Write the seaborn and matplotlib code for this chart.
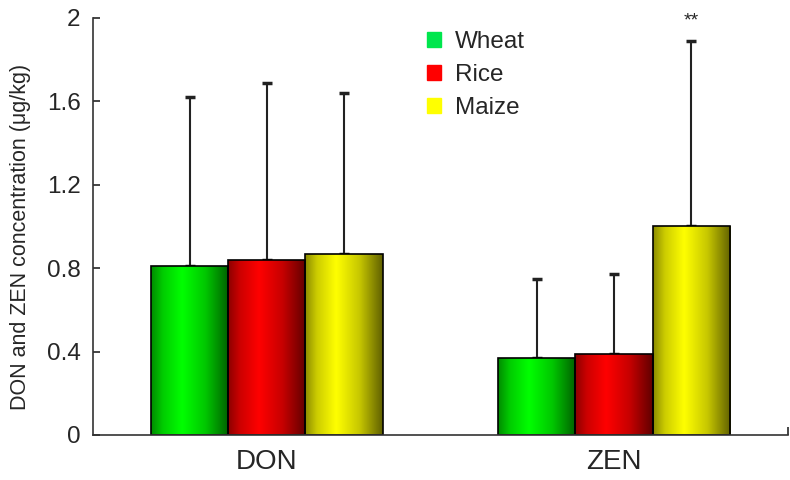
import matplotlib
matplotlib.use("Agg")
import matplotlib.pyplot as plt
import matplotlib.patches as mpatches
from matplotlib.colors import LinearSegmentedColormap
import seaborn as sns
import numpy as np
import pandas as pd

toxins = ["DON", "ZEN"]
grains = ["Wheat", "Rice", "Maize"]
means = {"Wheat": [0.81, 0.37], "Rice": [0.84, 0.39], "Maize": [0.87, 1.00]}
upper = {"Wheat": [1.62, 0.75], "Rice": [1.69, 0.77], "Maize": [1.64, 1.89]}
base_cols = {"Wheat": (0.0, 1.0, 0.0), "Rice": (1.0, 0.0, 0.0), "Maize": (1.0, 1.0, 0.0)}
legend_cols = {"Wheat": "#00e64d", "Rice": "#ff0000", "Maize": "#ffff00"}

rows = []
for g in grains:
    for i, t in enumerate(toxins):
        rows.append({"toxin": t, "grain": g, "mean": means[g][i]})
df = pd.DataFrame(rows)

sns.set_style("white")
plt.rcParams["font.family"] = ["Liberation Sans", "DejaVu Sans"]

fig = plt.figure(figsize=(7.9, 4.8), dpi=100)
ax = fig.add_axes([0.118, 0.094, 0.879, 0.8685])

sns.barplot(data=df, x="toxin", y="mean", hue="grain", order=toxins,
            hue_order=grains, palette=legend_cols, width=0.667,
            edgecolor="black", linewidth=1.2, legend=False, ax=ax)

# cylinder-like shading across each bar
prof_x = [0.0, 0.15, 0.4, 0.7, 1.0]
prof_v = [0.55, 0.8, 1.0, 0.78, 0.38]
for g, cont in zip(grains, ax.containers):
    r, gg, b = base_cols[g]
    cmap = LinearSegmentedColormap.from_list(
        g, [(px, (r * v, gg * v, b * v)) for px, v in zip(prof_x, prof_v)])
    grad = np.linspace(0, 1, 200).reshape(1, -1)
    for i, p in enumerate(cont.patches):
        x0, w, h = p.get_x(), p.get_width(), p.get_height()
        im = ax.imshow(grad, cmap=cmap, aspect="auto", extent=[x0, x0 + w, 0, h],
                       origin="lower", zorder=1.5, interpolation="bicubic")
        im.set_clip_path(p)
        p.set_facecolor("none")
        p.set_zorder(2)
        xc = x0 + w / 2
        ax.errorbar(xc, h, yerr=[[0], [upper[g][i] - h]], fmt="none",
                    ecolor="#222222", elinewidth=1.5, capsize=3.5, capthick=2.5,
                    zorder=1)

ax.text(1 + 0.222, 1.985, "**", ha="center", va="center", fontsize=14)

ax.set_xlim(-0.5, 1.5)
ax.set_ylim(0, 2)
ax.set_yticks([0, 0.4, 0.8, 1.2, 1.6, 2])
ax.set_yticklabels(["0", "0.4", "0.8", "1.2", "1.6", "2"])
ax.set_xlabel("")
ax.set_ylabel("DON and ZEN concentration (\u03bcg/kg)", fontsize=15.5)
ax.yaxis.set_label_coords(-0.09, 0.475)
ax.tick_params(axis="y", direction="in", length=5, width=1.2, labelsize=17.5, pad=9,
               left=True)
ax.tick_params(axis="x", length=0, labelsize=20, pad=10)
ax.set_xticks([1.5], minor=True)
ax.tick_params(axis="x", which="minor", direction="in", length=6, width=1.2,
               bottom=True)
for s in ["top", "right"]:
    ax.spines[s].set_visible(False)
for s in ["left", "bottom"]:
    ax.spines[s].set_color("#333333")
    ax.spines[s].set_linewidth(1.2)

handles = [mpatches.Patch(color=legend_cols[g], label=g) for g in grains]
leg = ax.legend(handles=handles, loc="upper left", bbox_to_anchor=(0.466, 0.993),
                borderaxespad=0, frameon=False, fontsize=17.5, handlelength=0.58,
                handleheight=0.58, handletextpad=0.58, labelspacing=0.46)

fig.savefig("out.png", dpi=100)
